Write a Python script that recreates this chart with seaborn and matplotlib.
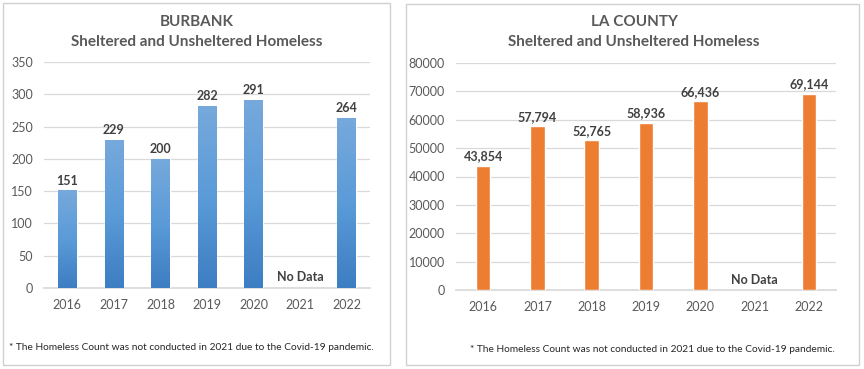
import matplotlib
matplotlib.use("Agg")
import matplotlib.pyplot as plt
import numpy as np
import pandas as pd
import seaborn as sns
from matplotlib.colors import LinearSegmentedColormap
from matplotlib.patches import Rectangle

# Data
years = ["2016", "2017", "2018", "2019", "2020", "2021", "2022"]
burbank_counts = [151, 229, 200, 282, 291, None, 264]
county_counts = [43854, 57794, 52765, 58936, 66436, None, 69144]
burbank_ticks = list(range(0, 351, 50))
county_ticks = list(range(0, 80001, 10000))
note = "* The Homeless Count was not conducted in 2021 due to the Covid-19 pandemic."

GRAY = "#595959"
DARK = "#404040"
GRID = "#D9D9D9"

sns.set_theme(style="white")
plt.rcParams["font.family"] = ["Lato", "DejaVu Sans"]

fig = plt.figure(figsize=(8.64, 3.69), dpi=100)
W, H = 864, 369


def px_rect(x0, y0, x1, y1):
    return [x0 / W, 1 - y1 / H, (x1 - x0) / W, (y1 - y0) / H]


# panel frames
for x0, y0, x1, y1 in [(3, 3, 390, 365), (406, 4, 859, 365)]:
    fig.patches.append(Rectangle((x0 / W, 1 - y1 / H), (x1 - x0) / W, (y1 - y0) / H,
                                 transform=fig.transFigure, fill=False,
                                 edgecolor="#D0D0D0", linewidth=1.0))


def draw_panel(rect, counts, ticks, color, width, fmt, grad, nodata_y, label_off):
    ax = fig.add_axes(rect)
    df = pd.DataFrame({"year": years, "count": counts})
    sns.barplot(data=df, x="year", y="count", order=years, color=color,
                width=width, ax=ax, saturation=1, zorder=3)
    ax.set_ylim(ticks[0], ticks[-1])
    ax.set_xlim(-0.5, len(years) - 0.5)
    ax.set_yticks(ticks)
    ax.set_yticklabels([str(t) for t in ticks], color=GRAY, fontsize=9)
    ax.tick_params(axis="x", colors=GRAY, labelsize=9, length=0, pad=8)
    ax.tick_params(axis="y", colors=GRAY, length=0, pad=8)
    ax.set_xlabel("")
    ax.set_ylabel("")
    ax.yaxis.grid(True, color=GRID, linewidth=0.9, zorder=0)
    ax.set_axisbelow(True)
    for s in ["top", "right", "left"]:
        ax.spines[s].set_visible(False)
    ax.spines["bottom"].set_color(GRID)

    # Excel-style vertical gradient fill on the bars
    if grad is not None:
        cmap = LinearSegmentedColormap.from_list("g", grad)
        g = np.linspace(0, 1, 256).reshape(-1, 1)
        for p in ax.patches:
            x, y = p.get_x(), p.get_y()
            w, h = p.get_width(), p.get_height()
            if not np.isfinite(h) or h == 0:
                continue
            im = ax.imshow(g, cmap=cmap, aspect="auto", extent=[x, x + w, y, y + h],
                           origin="lower", zorder=4)
            im.set_clip_path(p)
        ax.set_ylim(ticks[0], ticks[-1])
        ax.set_xlim(-0.5, len(years) - 0.5)

    for i, v in enumerate(counts):
        if v is None:
            ax.text(i, nodata_y, "No Data", ha="center", va="bottom",
                    fontsize=9, fontweight="bold", color=DARK, zorder=5)
        else:
            ax.text(i, v + label_off, fmt(v), ha="center", va="bottom",
                    fontsize=9, fontweight="bold", color=DARK, zorder=5)
    return ax


draw_panel(px_rect(44, 62, 370, 288), burbank_counts, burbank_ticks, "#5B9BD5", 0.4,
           lambda v: f"{v}", ["#3D7DC2", "#5A9BD8", "#77A9DC"], 8, 6)
draw_panel(px_rect(456, 63, 836, 290), county_counts, county_ticks, "#ED7D31", 0.27,
           lambda v: f"{v:,}", None, 1500, 1200)

for cx, name in [(197, "BURBANK"), (634, "LA COUNTY")]:
    fig.text(cx / W, 1 - 22 / H, name, ha="center", va="center",
             fontsize=11, fontweight="bold", color=GRAY)
    fig.text(cx / W, 1 - 42 / H, "Sheltered and Unsheltered Homeless", ha="center",
             va="center", fontsize=11, fontweight="bold", color=GRAY)

fig.text(191 / W, 1 - 348 / H, note, ha="center", va="center", fontsize=7.3, color="#262626")
fig.text(652 / W, 1 - 350 / H, note, ha="center", va="center", fontsize=7.3, color="#262626")

fig.savefig("out.png", dpi=100)
